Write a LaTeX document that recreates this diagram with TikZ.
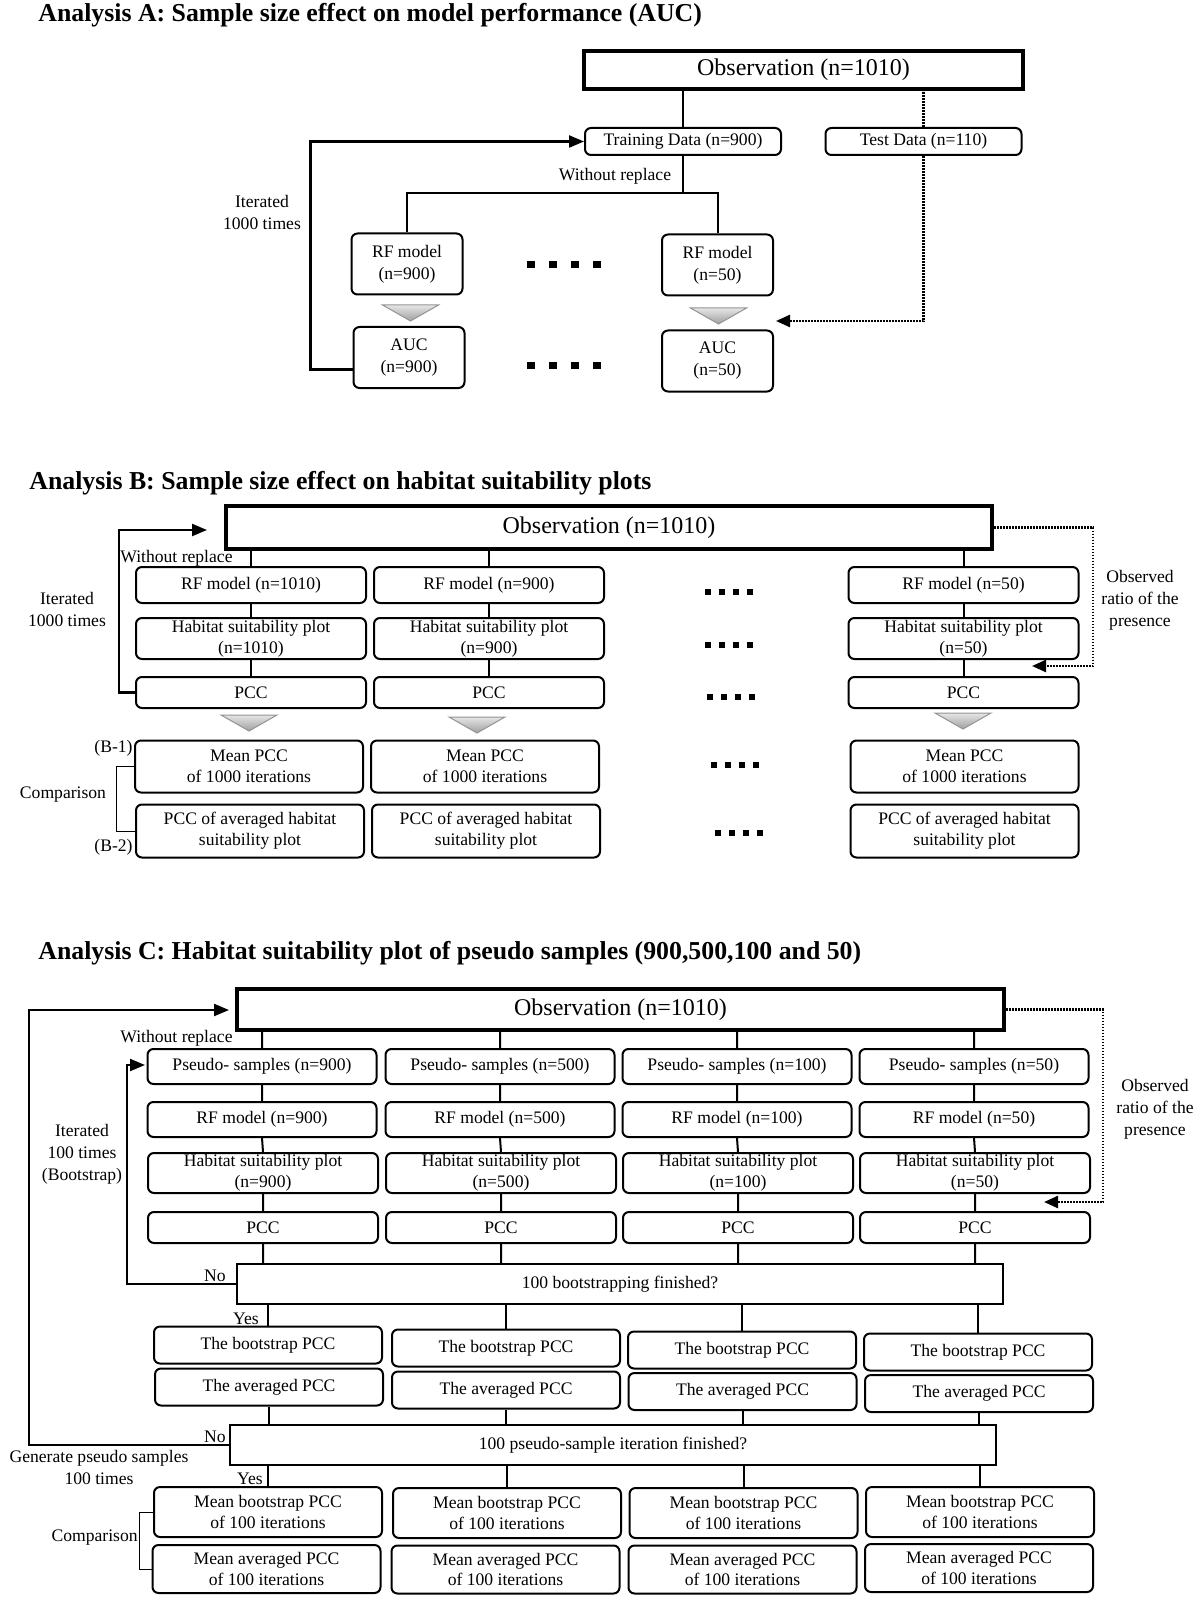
\documentclass[tikz,border=0pt]{standalone}
\usepackage{fontspec}
\setmainfont{Liberation Serif}
\usepackage{tikz}
\usetikzlibrary{arrows.meta,calc,positioning}

\begin{document}
\begin{tikzpicture}[
  x=0.5pt, y=-0.5pt,
  txt/.style={font=\fontsize{8.8}{10.4}\selectfont, align=center, inner sep=0pt},
  note/.style={txt, font=\fontsize{8.8}{11}\selectfont},
  heading/.style={font=\fontsize{12.9}{15}\selectfont\bfseries, anchor=west, inner sep=0pt},
  obsbox/.style={draw, line width=2pt, inner sep=0pt, minimum height=20.5pt, font=\fontsize{12}{14}\selectfont},
  rbox/.style={draw, line width=1pt, rounded corners=3pt, txt},
  smallbox/.style={rbox, minimum width=98pt, minimum height=13.5pt},
  modelbox/.style={rbox, minimum width=55.5pt, minimum height=30.5pt, font=\fontsize{8.8}{11}\selectfont},
  cell/.style={rbox, minimum width=115pt},
  modelrow/.style={cell, minimum height=18pt},
  plotrow/.style={cell, minimum height=20.5pt},
  pccrow/.style={cell, minimum height=15.5pt},
  meanrow/.style={cell, minimum width=114pt, minimum height=26.5pt},
  samplerow/.style={cell, minimum width=114.5pt, minimum height=17.5pt},
  bootrow/.style={cell, minimum width=114pt, minimum height=18.5pt},
  iterrow/.style={cell, minimum width=114pt, minimum height=24.5pt},
  decbox/.style={draw, line width=1.2pt, txt, minimum width=383pt, minimum height=20pt},
  link/.style={line width=1pt},
  loopback/.style={line width=1.1pt, -{Triangle[length=7.5pt,width=6pt]}},
  ratio/.style={line width=1.2pt, dash pattern=on 0.8pt off 0.7pt},
  ratioarrow/.style={ratio, -{Triangle[length=7pt,width=6pt]}},
  bracket/.style={line width=0.5pt},
  bigdots/.pic={
    \fill (-4,-3.5) rectangle ++(8,7);
    \fill (18,-3.5) rectangle ++(8,7);
    \fill (40,-3.5) rectangle ++(8,7);
    \fill (62,-3.5) rectangle ++(8,7);},
  smalldots/.pic={
    \fill (-3,-3) rectangle ++(6,6);
    \fill (11,-3) rectangle ++(6,6);
    \fill (25,-3) rectangle ++(6,6);
    \fill (39,-3) rectangle ++(6,6);},
  downtri/.pic={
    \shadedraw[draw=gray!85, line width=0.5pt, top color=gray!20, bottom color=gray!75]
      (-28,0) -- (28,0) -- (0,16) -- cycle;}
]
  \useasboundingbox (0,0) rectangle (1200,1599);

  % Analysis A
  \node[heading] (titleA) at (38,15) {Analysis A: Sample size effect on model performance (AUC)};
  \node[obsbox, minimum width=219.5pt, minimum height=19pt] (obsA) at (803.5,70) {Observation (n=1010)};
  \node[smallbox] (trainA) at (683,141.5) {Training Data (n=900)};
  \node[smallbox] (testA) at (923.5,141.5) {Test Data (n=110)};
  \node[modelbox] (rfA1) at (407,264) {RF model\\(n=900)};
  \node[modelbox] (rfA2) at (717.5,265) {RF model\\(n=50)};
  \node[modelbox] (aucA1) at (409,357.5) {AUC\\(n=900)};
  \node[modelbox] (aucA2) at (717.5,361) {AUC\\(n=50)};
  \node[txt] (norepA) at (615,176) {Without replace};
  \node[note] (iterA) at (262,212.5) {Iterated\\1000 times};
  \coordinate (tipA) at (776,321);
  \pic at (531,265) {bigdots};
  \pic at (531,365) {bigdots};
  \pic at (410.5,305) {downtri};
  \pic at (718.5,308) {downtri};

  \draw[link] (trainA.north) -- (trainA.north |- obsA.south);
  \draw[link] (trainA.south) -- ++(0,37) coordinate (splitA);
  \draw[link] (rfA1.north) |- (splitA) -| (rfA2.north);
  \draw[ratio] (testA.north) -- (testA.north |- obsA.south);
  \draw[ratioarrow] (testA.south) |- (tipA);
  \draw[loopback] ([yshift=-6pt]aucA1.west) -- ++(-42,0) |- (trainA.west);

  % Analysis B
  \node[heading] (titleB) at (29,483) {Analysis B: Sample size effect on habitat suitability plots};
  \node[obsbox, minimum width=383pt, minimum height=21.5pt] (obsB) at (609,527.5) {Observation (n=1010)};
  \node[modelrow] (rfB1) at (251,585) {RF model (n=1010)};
  \node[modelrow] (rfB2) at (489,585) {RF model (n=900)};
  \node[modelrow] (rfB4) at (963.5,585) {RF model (n=50)};
  \node[plotrow] (hspB1) at (251,638.5) {Habitat suitability plot\\(n=1010)};
  \node[plotrow] (hspB2) at (489,638.5) {Habitat suitability plot\\(n=900)};
  \node[plotrow] (hspB4) at (963.5,638.5) {Habitat suitability plot\\(n=50)};
  \node[pccrow] (pccB1) at (251,692.5) {PCC};
  \node[pccrow] (pccB2) at (489,692.5) {PCC};
  \node[pccrow] (pccB4) at (963.5,692.5) {PCC};
  \node[meanrow, minimum height=26pt] (meanB1) at (249,766.5) {Mean PCC\\of 1000 iterations};
  \node[meanrow, minimum height=26pt] (meanB2) at (485,766.5) {Mean PCC\\of 1000 iterations};
  \node[meanrow, minimum height=26pt] (meanB4) at (964.5,766.5) {Mean PCC\\of 1000 iterations};
  \node[meanrow] (avgB1) at (250,831) {PCC of averaged habitat\\suitability plot};
  \node[meanrow] (avgB2) at (486,831) {PCC of averaged habitat\\suitability plot};
  \node[meanrow] (avgB4) at (964.5,831) {PCC of averaged habitat\\suitability plot};
  \node[txt, anchor=west] (norepB) at (120,558) {Without replace};
  \node[note] (iterB) at (67,609.5) {Iterated\\1000 times};
  \node[txt, anchor=east] (b1) at (133,748) {(B-1)};
  \node[txt, anchor=east] (b2) at (133,847) {(B-2)};
  \node[txt] (compB) at (63,795) {Comparison};
  \node[note] (ratioB) at (1140,600) {Observed\\ratio of the\\presence};
  \coordinate (tipB) at (207,530);
  \coordinate (tipB2) at (1032,666);
  \pic at (708,592) {smalldots};
  \pic at (708,645) {smalldots};
  \pic at (710,697) {smalldots};
  \pic at (714,765) {smalldots};
  \pic at (718,833) {smalldots};
  \pic at (249,715) {downtri};
  \pic at (477,717) {downtri};
  \pic at (963,713) {downtri};

  \draw[link] (rfB1.north |- obsB.south) -- (rfB1.north) (rfB1.south) -- (hspB1.north) (hspB1.south) -- (pccB1.north);
  \draw[link] (rfB2.north |- obsB.south) -- (rfB2.north) (rfB2.south) -- (hspB2.north) (hspB2.south) -- (pccB2.north);
  \draw[link] (rfB4.north |- obsB.south) -- (rfB4.north) (rfB4.south) -- (hspB4.north) (hspB4.south) -- (pccB4.north);
  \draw[loopback] (pccB1.west) -- ++(-16,0) |- (tipB);
  \draw[ratioarrow] (obsB.east) -- ++(99,0) |- (tipB2);
  \draw[bracket] (meanB1.west) -- ++(-18,0) |- (avgB1.west);

  % Analysis C
  \node[heading] (titleC) at (38,953) {Analysis C: Habitat suitability plot of pseudo samples (900,500,100 and 50)};
  \node[obsbox, minimum width=383.5pt] (obsC) at (620.5,1009.5) {Observation (n=1010)};
  \node[samplerow] (psC1) at (262,1066.5) {Pseudo- samples (n=900)};
  \node[samplerow] (psC2) at (500,1066.5) {Pseudo- samples (n=500)};
  \node[samplerow] (psC3) at (737,1066.5) {Pseudo- samples (n=100)};
  \node[samplerow] (psC4) at (974,1066.5) {Pseudo- samples (n=50)};
  \node[samplerow] (rfC1) at (262,1119.5) {RF model (n=900)};
  \node[samplerow] (rfC2) at (500,1119.5) {RF model (n=500)};
  \node[samplerow] (rfC3) at (737,1119.5) {RF model (n=100)};
  \node[samplerow] (rfC4) at (974,1119.5) {RF model (n=50)};
  \node[plotrow, minimum height=20pt] (hspC1) at (263,1173) {Habitat suitability plot\\(n=900)};
  \node[plotrow, minimum height=20pt] (hspC2) at (501,1173) {Habitat suitability plot\\(n=500)};
  \node[plotrow, minimum height=20pt] (hspC3) at (738,1173) {Habitat suitability plot\\(n=100)};
  \node[plotrow, minimum height=20pt] (hspC4) at (975,1173) {Habitat suitability plot\\(n=50)};
  \node[pccrow] (pccC1) at (263,1227.5) {PCC};
  \node[pccrow] (pccC2) at (501,1227.5) {PCC};
  \node[pccrow] (pccC3) at (738,1227.5) {PCC};
  \node[pccrow] (pccC4) at (975,1227.5) {PCC};
  \node[decbox] (bootDec) at (620,1284) {100 bootstrapping finished?};
  \node[bootrow] (bsC1) at (268,1345) {The bootstrap PCC};
  \node[bootrow] (bsC2) at (506,1348) {The bootstrap PCC};
  \node[bootrow] (bsC3) at (742,1350) {The bootstrap PCC};
  \node[bootrow] (bsC4) at (978,1352) {The bootstrap PCC};
  \node[bootrow] (avC1) at (269,1387) {The averaged PCC};
  \node[bootrow] (avC2) at (506,1390) {The averaged PCC};
  \node[bootrow] (avC3) at (742.5,1391.5) {The averaged PCC};
  \node[bootrow] (avC4) at (979,1393.5) {The averaged PCC};
  \node[decbox] (pseudoDec) at (613,1445) {100 pseudo-sample iteration finished?};
  \node[iterrow, minimum height=25pt] (mbC1) at (268,1512) {Mean bootstrap PCC\\of 100 iterations};
  \node[iterrow, minimum height=25pt] (mbC2) at (507,1513) {Mean bootstrap PCC\\of 100 iterations};
  \node[iterrow, minimum height=25pt] (mbC3) at (743.5,1513) {Mean bootstrap PCC\\of 100 iterations};
  \node[iterrow, minimum height=25pt] (mbC4) at (980,1512) {Mean bootstrap PCC\\of 100 iterations};
  \node[iterrow, minimum height=24pt] (maC1) at (266.5,1569) {Mean averaged PCC\\of 100 iterations};
  \node[iterrow, minimum height=24pt] (maC2) at (505.5,1569.5) {Mean averaged PCC\\of 100 iterations};
  \node[iterrow, minimum height=24pt] (maC3) at (742.5,1569.5) {Mean averaged PCC\\of 100 iterations};
  \node[iterrow, minimum height=24pt] (maC4) at (979,1568) {Mean averaged PCC\\of 100 iterations};
  \node[txt, anchor=west] (norepC) at (120,1038) {Without replace};
  \node[note] (iterC) at (82,1154) {Iterated\\100 times\\(Bootstrap)};
  \node[note] (ratioC) at (1155,1109) {Observed\\ratio of the\\presence};
  \node[txt] (noC1) at (215,1276) {No};
  \node[txt] (yesC1) at (246,1319) {Yes};
  \node[txt] (noC2) at (215,1437) {No};
  \node[txt] (yesC2) at (250,1479) {Yes};
  \node[note] (genC) at (99,1467) {Generate pseudo samples\\100 times};
  \node[txt, anchor=east] (compC) at (138,1538) {Comparison};
  \coordinate (tipC1) at (145,1065);
  \coordinate (tipC2) at (229,1010);
  \coordinate (tipC3) at (1044,1202);

  % columns of C
  \draw[link] (psC1.north |- obsC.south) -- (psC1.north) (psC1.south) -- (rfC1.north) (rfC1.south) -- (hspC1.north) (hspC1.south) -- (pccC1.north) (pccC1.south) -- (pccC1.south |- bootDec.north);
  \draw[link] (psC2.north |- obsC.south) -- (psC2.north) (psC2.south) -- (rfC2.north) (rfC2.south) -- (hspC2.north) (hspC2.south) -- (pccC2.north) (pccC2.south) -- (pccC2.south |- bootDec.north);
  \draw[link] (psC3.north |- obsC.south) -- (psC3.north) (psC3.south) -- (rfC3.north) (rfC3.south) -- (hspC3.north) (hspC3.south) -- (pccC3.north) (pccC3.south) -- (pccC3.south |- bootDec.north);
  \draw[link] (psC4.north |- obsC.south) -- (psC4.north) (psC4.south) -- (rfC4.north) (rfC4.south) -- (hspC4.north) (hspC4.south) -- (pccC4.north) (pccC4.south) -- (pccC4.south |- bootDec.north);
  \draw[link] (bsC1.north |- bootDec.south) -- (bsC1.north) (avC1.south) -- (avC1.south |- pseudoDec.north) (mbC1.north |- pseudoDec.south) -- (mbC1.north);
  \draw[link] (bsC2.north |- bootDec.south) -- (bsC2.north) (avC2.south) -- (avC2.south |- pseudoDec.north) (mbC2.north |- pseudoDec.south) -- (mbC2.north);
  \draw[link] (bsC3.north |- bootDec.south) -- (bsC3.north) (avC3.south) -- (avC3.south |- pseudoDec.north) (mbC3.north |- pseudoDec.south) -- (mbC3.north);
  \draw[link] (bsC4.north |- bootDec.south) -- (bsC4.north) (avC4.south) -- (avC4.south |- pseudoDec.north) (mbC4.north |- pseudoDec.south) -- (mbC4.north);

  % loops
  \draw[loopback] (bootDec.west) -- ++(-109,0) |- (tipC1);
  \draw[loopback] (pseudoDec.west) -- ++(-200,0) |- (tipC2);
  \draw[ratioarrow] (obsC.east) -- ++(97,0) |- (tipC3);
  \draw[bracket] (mbC1.west) -- ++(-14,0) |- (maC1.west);
\end{tikzpicture}
\end{document}
